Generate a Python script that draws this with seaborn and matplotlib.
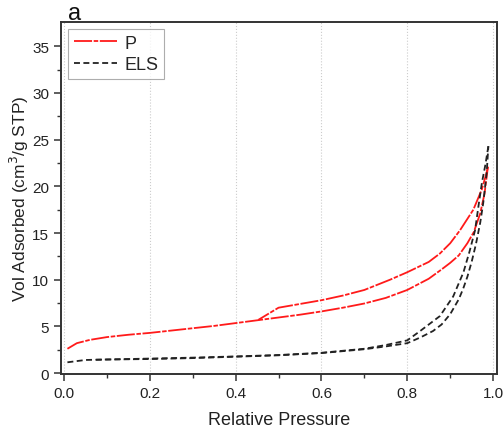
import matplotlib
matplotlib.use("Agg")
import matplotlib.pyplot as plt
import seaborn as sns
import numpy as np

sns.set_theme(style="white")
plt.rcParams['font.family'] = ['Liberation Sans', 'DejaVu Sans']

# P sample: adsorption and desorption branches
p_ads_x = [0.008, 0.03, 0.06, 0.1, 0.15, 0.2, 0.25, 0.3, 0.35, 0.4, 0.45, 0.5, 0.55, 0.6,
           0.65, 0.7, 0.75, 0.8, 0.85, 0.88, 0.9, 0.92, 0.94, 0.955, 0.97, 0.98, 0.988]
p_ads_y = [2.6, 3.2, 3.55, 3.85, 4.1, 4.3, 4.55, 4.8, 5.05, 5.35, 5.65, 5.95, 6.25, 6.6,
           7.0, 7.45, 8.05, 8.9, 10.1, 11.1, 11.8, 12.6, 13.9, 15.1, 17.1, 19.2, 22.1]
p_des_x = [0.988, 0.985, 0.974, 0.954, 0.923, 0.9, 0.876, 0.85, 0.8, 0.76, 0.7, 0.65,
           0.6, 0.55, 0.5, 0.453]
p_des_y = [22.1, 21.5, 19.7, 17.5, 15.3, 13.9, 12.8, 11.9, 10.8, 10.0, 8.9, 8.3,
           7.8, 7.4, 7.0, 5.7]

# ELS sample
e_ads_x = [0.008, 0.05, 0.1, 0.2, 0.3, 0.4, 0.5, 0.6, 0.7, 0.75, 0.8, 0.83, 0.86, 0.88,
           0.9, 0.92, 0.93, 0.94, 0.95, 0.96, 0.97, 0.977, 0.985, 0.989]
e_ads_y = [1.15, 1.4, 1.45, 1.5, 1.6, 1.75, 1.9, 2.14, 2.55, 2.85, 3.2, 3.8, 4.5, 5.2,
           6.3, 7.9, 9.0, 10.3, 11.9, 13.8, 16.1, 18.2, 21.4, 24.3]
e_des_x = [0.989, 0.982, 0.974, 0.966, 0.958, 0.945, 0.931, 0.907, 0.876, 0.83, 0.8,
           0.75, 0.7, 0.6, 0.5, 0.4, 0.3, 0.2, 0.1, 0.07]
e_des_y = [24.3, 22.3, 20.4, 17.9, 15.3, 13.0, 10.8, 8.2, 6.1, 4.5, 3.5, 3.0, 2.6, 2.17,
           1.93, 1.78, 1.65, 1.55, 1.45, 1.42]

x_ticks = [0.0, 0.2, 0.4, 0.6, 0.8, 1.0]
y_ticks = [0, 5, 10, 15, 20, 25, 30, 35]

fig = plt.figure(figsize=(5.04, 4.35), dpi=100)
ax = fig.add_axes([0.121, 0.138, 0.865, 0.809])

red_ls = (0, (10, 0.9, 2.5, 0.9))
blk_ls = (0, (3.3, 1.9))
sns.lineplot(x=p_ads_x, y=p_ads_y, sort=False, estimator=None, ax=ax, color='#ff1a1a',
             lw=1.3, linestyle=red_ls, label='P')
sns.lineplot(x=p_des_x, y=p_des_y, sort=False, estimator=None, ax=ax, color='#ff1a1a',
             lw=1.3, linestyle=red_ls, legend=False)
sns.lineplot(x=e_ads_x, y=e_ads_y, sort=False, estimator=None, ax=ax, color='#222222',
             lw=1.3, linestyle=blk_ls, label='ELS')
sns.lineplot(x=e_des_x, y=e_des_y, sort=False, estimator=None, ax=ax, color='#222222',
             lw=1.3, linestyle=blk_ls, legend=False)

ax.set_xlim(-0.007, 1.009)
ax.set_ylim(-0.1, 37.6)
ax.set_xticks(x_ticks)
ax.set_xticklabels([f"{v:.1f}" for v in x_ticks])
ax.set_yticks(y_ticks)
ax.set_xticks(np.arange(0.1, 1.0, 0.2), minor=True)
ax.set_yticks(np.arange(2.5, 37.5, 5), minor=True)
ax.tick_params(axis='both', which='major', direction='out', length=5, width=1.1,
               color='#333333', labelsize=11, labelcolor='#222222', bottom=True, left=True)
ax.tick_params(axis='both', which='minor', direction='out', length=3, width=1.0,
               color='#333333', bottom=True, left=True)
ax.grid(axis='x', which='major', color='#cccccc', linestyle=':', lw=0.8)
for s in ax.spines.values():
    s.set_color('#333333')
    s.set_linewidth(1.4)

ax.set_xlabel('Relative Pressure', fontsize=13, color='#222222', labelpad=8)
ax.set_ylabel('Vol Adsorbed (cm$^3$/g STP)', fontsize=12.5, color='#222222', labelpad=1)
ax.text(0.016, 0.995, 'a', transform=ax.transAxes, fontsize=17, color='#111111',
        va='bottom', ha='left')

leg = ax.legend(loc='upper left', fontsize=13, frameon=True, fancybox=False,
                edgecolor='#999999', handlelength=2.4, borderpad=0.3, labelspacing=0.25,
                handletextpad=0.4, borderaxespad=0.4)
leg.get_frame().set_linewidth(0.8)

fig.savefig('out.png', dpi=100)
